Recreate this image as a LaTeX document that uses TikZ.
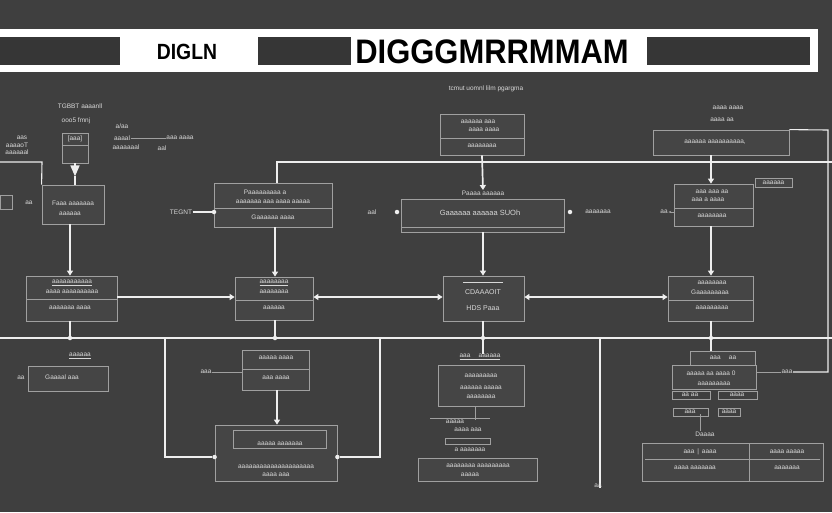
\documentclass[tikz,border=0pt]{standalone}
\usepackage{fontspec}
\setmainfont{Liberation Sans}
\usetikzlibrary{arrows.meta}
\definecolor{bgc}{HTML}{3F3F3F}
\definecolor{darkr}{HTML}{363636}
\definecolor{boxc}{HTML}{A0A0A0}
\definecolor{boxf}{HTML}{454545}
\definecolor{txtc}{HTML}{D8D8D8}
\definecolor{linec}{HTML}{EEEEEE}
\begin{document}
\begin{tikzpicture}[x=1pt,y=-1pt,
  bx/.style={draw=boxc, fill=boxf, line width=0.8pt, inner sep=0pt},
  lb/.style={text=txtc, font=\fontsize{6.5}{7.5}\selectfont, inner sep=0.5pt},
  wire/.style={draw=linec, line width=1.7pt},
  bus/.style={draw=linec, line width=1.1pt},
  thin/.style={draw=boxc, line width=0.6pt},
  arr/.style={wire, -{Triangle[length=5pt,width=6pt]}},
  darr/.style={wire, {Triangle[length=5pt,width=6pt]}-{Triangle[length=5pt,width=6pt]}},
  dotn/.style={circle, fill=linec, inner sep=0pt, minimum size=4.5pt}]
\useasboundingbox (0,0) rectangle (832,512);
\fill[bgc] (0,0) rectangle (832,512);
% ---------- title bar
\fill[white] (0,29) rectangle (818,72);
\fill[darkr] (0,37) rectangle (120,65);
\fill[darkr] (258,37) rectangle (351,65);
\fill[darkr] (647,37) rectangle (810,65);
\node[text=black, font=\bfseries\fontsize{22}{22}\selectfont, inner sep=0] (t1) at (187,52) {\scalebox{0.88}[1]{DIGLN}};
\node[text=black, font=\bfseries\fontsize{34}{34}\selectfont, inner sep=0] (t2) at (492,52) {\scalebox{0.91}[1]{DIGGGMRRMMAM}};
\node[lb] (sub) at (486,89) {tcmut uomnl lilm pgargma};
% ---------- top-left cluster
\node[lb] (la1) at (80,106) {TGBBT aaaanll};
\node[lb] (la2) at (76,121) {ooo5 fmnj};
\node[bx, minimum width=26pt, minimum height=30pt] (A0) at (75,148) {};
\draw[thin] (62,145) -- (88,145);
\node[lb] (A0t) at (75,139) {[aaa]};
\node[lb] (ll1) at (22,138) {aas};
\node[lb] (ll2) at (17,145) {aaaaoT};
\node[lb] (ll3) at (17,152) {aaaaaal};
\node[lb] (lr1) at (122,126) {a/aa};
\node[lb] (lr2) at (122,138) {aaaal};
\node[lb] (lr3) at (126,147) {aaaaaaal};
\node[lb] (lr4) at (180,138) {aaa aaaa};
\node[lb] (lr5) at (162,148) {aal};
\draw[thin] (lr2.east) -- (lr4.west);
\node[bx, minimum width=62pt, minimum height=39pt] (A1) at (73,204.5) {};
\node[lb] (A1a) at (73,203) {Faaa aaaaaaa};
\node[lb] (A1b) at (70,214) {aaaaaa};
\fill[boxf, draw=boxc, line width=0.6pt] (0,195) rectangle (12,209);
\node[lb] (A1l) at (29,203) {aa};
\coordinate (tl0) at (0,162);
\coordinate (tl1) at (42,162);
\draw[bus] (tl0) -- (tl1) -- (A1.north west);
\draw[wire, -{Triangle[length=11pt,width=9pt]}] (A0.south) -- ++(0,13) coordinate (A0e);
\draw[bus] (A0e) -- (A1.north -| A0e);
% ---------- B1
\node[bx, minimum width=118pt, minimum height=44pt] (B1) at (273,205) {};
\draw[thin] (214,208) -- (332,208);
\node[lb] (B1a) at (265,192) {Paaaaaaaaa a};
\node[lb] (B1b) at (273,202) {aaaaaaa aaa aaaa aaaaa};
\node[lb] (B1c) at (273,217) {Gaaaaaa aaaa};
\node[lb] (teg) at (181,212) {TEGNT};
\node[dotn] (d1) at (214,212) {};
\draw[bus] (teg.east) -- (d1);
% ---------- C0 / C1
\node[bx, minimum width=84pt, minimum height=41pt] (C0) at (482,134.5) {};
\draw[thin] (440,138) -- (524,138);
\node[lb] (C0a) at (478,122) {aaaaaa aaa};
\node[lb] (C0b) at (484,130) {aaaa aaaa};
\node[lb] (C0c) at (482,146) {aaaaaaaa};
\node[lb] (C1l) at (483,193) {Paaaa aaaaaa};
\node[bx, minimum width=163pt, minimum height=33pt] (C1) at (482.5,215.5) {};
\draw[thin] (401,227) -- (564,227);
\node[lb, font=\fontsize{7.5}{8.5}\selectfont] (C1a) at (480,213) {Gaaaaaa aaaaaa SUOh};
\node[lb] (aal) at (372,212) {aal};
\node[dotn] (d2) at (397,212) {};
\node[dotn] (d3) at (570,212) {};
\node[lb] (C1r) at (598,212) {aaaaaaa};
% ---------- D0 / D1
\node[lb] (ld1) at (728,108) {aaaa aaaa};
\node[lb] (ld2) at (722,120) {aaaa aa};
\node[bx, minimum width=136pt, minimum height=25pt] (D0) at (721,142.5) {};
\node[lb] (D0a) at (715,142) {aaaaaa aaaaaaaaaa,};
\node[bx, minimum width=79pt, minimum height=42pt] (D1) at (713.5,205) {};
\draw[thin] (674,208) -- (753,208);
\node[lb] (D1a) at (712,192) {aaa aaa aa};
\node[lb] (D1b) at (708,200) {aaa a aaaa};
\node[lb] (D1c) at (712,216) {aaaaaaaa};
\node[bx, minimum width=37pt, minimum height=9pt] (D1t) at (773.5,182.5) {};
\node[lb] (D1tt) at (773.5,182.5) {aaaaaa};
\node[lb] (D1l) at (664,212) {aa};
\draw[thin, -{Stealth[length=3pt]}] (D1.west |- D1l) -- (D1l.east);
% ---------- top buses
\coordinate (tr) at (832,162);
\coordinate (rv0) at (828,130);
\coordinate (rv1) at (828,372);
\draw[bus] (B1.north -| 277,0) |- (tr);
\draw[arr] (C0.south) -- (C1l.north);
\draw[arr] (D0.south -| 711,0) -- (D1.north -| 711,0);
% ---------- row 2
\node[bx, minimum width=91pt, minimum height=45pt] (E) at (71.5,298.5) {};
\draw[thin] (26,299) -- (117,299);
\node[lb] (Ea) at (72,283) {\underline{aaaaaaaaaaa}};
\node[lb] (Eb) at (72,292) {aaaa aaaaaaaaaa};
\node[lb] (Ec) at (70,308) {aaaaaaa aaaa};
\node[bx, minimum width=78pt, minimum height=43pt] (F) at (274,298.5) {};
\draw[thin] (235,300) -- (313,300);
\node[lb] (Fa) at (274,283) {\underline{aaaaaaaa}};
\node[lb] (Fb) at (274,292) {aaaaaaaa};
\node[lb] (Fc) at (274,308) {aaaaaa};
\node[bx, minimum width=81pt, minimum height=45pt] (G) at (483.5,298.5) {};
\node[lb] (Ga) at (483,282) {\underline{\hspace{40pt}}};
\node[lb, font=\fontsize{7}{8}\selectfont] (Gb) at (483,292) {CDAAAOIT};
\node[lb, font=\fontsize{7}{8}\selectfont] (Gc) at (483,308) {HDS Paaa};
\node[bx, minimum width=85pt, minimum height=45pt] (H) at (710.5,298.5) {};
\draw[thin] (668,300) -- (753,300);
\node[lb] (Ha) at (712,283) {aaaaaaaa};
\node[lb] (Hb) at (710,292) {Gaaaaaaaaa};
\node[lb] (Hc) at (712,308) {aaaaaaaaa};
\draw[arr] (A1.south -| 70,0) -- (E.north -| 70,0);
\draw[arr] (B1.south -| 275,0) -- (F.north -| 275,0);
\draw[arr] (C1.south -| 483,0) -- (G.north -| 483,0);
\draw[arr] (D1.south -| 711,0) -- (H.north -| 711,0);
\draw[arr] (E.east |- 0,297) -- (F.west |- 0,297);
\draw[darr] (F.east |- 0,297) -- (G.west |- 0,297);
\draw[darr] (G.east |- 0,297) -- (H.west |- 0,297);
% ---------- lower bus
\coordinate (bl) at (0,338);
\coordinate (br) at (832,338);
\draw[bus] (bl) -- (br);
\node[dotn] (e1) at (70,338) {};
\node[dotn] (e2) at (275,338) {};
\node[dotn] (e3) at (483,338) {};
\node[dotn] (e4) at (711,338) {};
\draw[wire] (E.south -| 70,0) -- (e1);
\draw[wire] (F.south -| 275,0) -- (e2);
% ---------- bottom left
\node[lb] (I0l) at (80,356) {\underline{aaaaaa}};
\node[bx, minimum width=80pt, minimum height=25pt] (I0) at (68,378.5) {};
\node[lb] (I0a) at (62,377) {Gaaaal aaa};
\node[lb] (I0s) at (21,378) {aa};
% ---------- J0 / J
\node[bx, minimum width=67pt, minimum height=40pt] (J0) at (275.5,370) {};
\draw[thin] (242,369) -- (309,369);
\node[lb] (J0a) at (276,358) {aaaaa aaaa};
\node[lb] (J0b) at (276,378) {aaa aaaa};
\node[lb] (J0l) at (206,372) {aaa};
\draw[thin] (J0l.east) -- (J0.west |- J0l);
\node[bx, minimum width=122pt, minimum height=56pt] (J) at (276,453) {};
\draw[thin] (233,430) rectangle (326,448);
\node[lb] (Ja) at (280,444) {aaaaa aaaaaaa};
\node[lb] (Jb) at (276,467) {aaaaaaaaaaaaaaaaaaaaa};
\node[lb] (Jc) at (276,475) {aaaa aaa};
\draw[arr] (J0.south -| 277,0) -- (J.north -| 277,0);
\coordinate (jl0) at (165,338);
\coordinate (jl1) at (165,457);
\coordinate (jr0) at (380,338);
\coordinate (jr1) at (380,457);
\node[dotn] (jd1) at (J.west |- 0,457) {};
\node[dotn] (jd2) at (J.east |- 0,457) {};
\draw[bus] (jl0) -- (jl1) -- (jd1);
\draw[bus] (jr0) -- (jr1) -- (jd2);
% ---------- center bottom
\node[lb] (K0l) at (480,357) {\underline{aaa \quad aaaaaa}};
\draw[wire] (G.south -| 483,0) -- (K0l.north -| 483,0);
\node[bx, minimum width=86pt, minimum height=41pt] (K0) at (481,385.5) {};
\node[lb] (K0a) at (481,376) {aaaaaaaaa};
\node[lb] (K0b) at (481,388) {aaaaaa aaaaa};
\node[lb] (K0c) at (481,397) {aaaaaaaa};
\node[lb] (s1) at (455,422) {aaaaa};
\node[lb] (s2) at (468,430) {aaaa aaa};
\draw[thin] (430,418) -- (490,418);
\draw[thin] (445,438) rectangle (490,444);
\node[lb] (s3) at (470,450) {a aaaaaaa};
\draw[thin] (K0.south -| 475,0) -- (s1.north -| 475,0);
\node[bx, minimum width=119pt, minimum height=23pt] (KB) at (477.5,469.5) {};
\node[lb] (KBa) at (478,466) {aaaaaaaa aaaaaaaaa};
\node[lb] (KBb) at (470,475) {aaaaa};
\coordinate (v0) at (600,338);
\coordinate (v1) at (600,488);
\draw[bus] (v0) -- (v1);
\node[lb] (vl) at (598,486) {aa};
% ---------- right bottom
\node[bx, minimum width=65pt, minimum height=14pt] (K1) at (723,358) {};
\node[lb] (K1a) at (723,358) {aaa \quad aa};
\node[bx, minimum width=84pt, minimum height=24pt] (K2) at (714,377) {};
\node[lb] (K2a) at (711,373) {aaaaa aa aaaa 0};
\node[lb] (K2b) at (714,384) {aaaaaaaaa};
\draw[thin] (672,391) rectangle (710,399);
\draw[thin] (718,391) rectangle (757,399);
\node[lb] (K3a) at (690,395) {aa aa};
\node[lb] (K3b) at (737,395) {aaaa};
\draw[thin] (673,408) rectangle (708,416);
\draw[thin] (718,408) rectangle (740,416);
\node[lb] (K4a) at (690,412) {aaa};
\node[lb] (K4b) at (729,412) {aaaa};
\node[lb] (K5) at (705,434) {Daaaa};
\draw[wire] (H.south -| 711,0) -- (K1.north -| 711,0);
\draw[thin] (K4a.south -| 700,0) -- (K5.north -| 700,0);
\node[bx, minimum width=181pt, minimum height=38pt] (L) at (732.5,462) {};
\draw[thin] (749,443) -- (749,481);
\draw[thin] (645,459) -- (820,459);
\node[lb] (La) at (700,452) {aaa \,|\, aaaa};
\node[lb] (Lb) at (787,452) {aaaa aaaaa};
\node[lb] (Lc) at (695,468) {aaaa aaaaaaa};
\node[lb] (Ld) at (787,468) {aaaaaaa};
\node[lb] (rtag) at (787,372) {aaa};
\draw[bus] (D0.north east) -- (rv0) -- (rv1) -- (rtag.east);
\draw[thin] (rtag.west) -- (K2.east |- rtag);
\end{tikzpicture}
\end{document}
